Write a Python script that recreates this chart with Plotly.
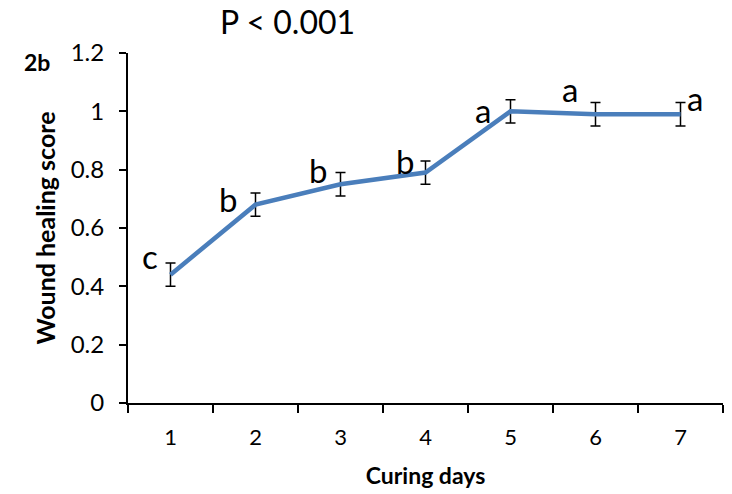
import plotly.graph_objects as go

days = [1, 2, 3, 4, 5, 6, 7]
day_labels = ["1", "2", "3", "4", "5", "6", "7"]
scores = [0.44, 0.68, 0.75, 0.79, 1.00, 0.99, 0.99]
errors = [0.04, 0.04, 0.04, 0.04, 0.04, 0.04, 0.04]
letters = ["c", "b", "b", "b", "a", "a", "a"]
letter_x = [0.76, 1.68, 2.74, 3.76, 4.68, 5.70, 7.17]
letter_y = [0.505, 0.70, 0.80, 0.83, 1.005, 1.075, 1.047]
y_ticks = [0, 0.2, 0.4, 0.6, 0.8, 1, 1.2]
y_tick_labels = ["0", "0.2", "0.4", "0.6", "0.8", "1", "1.2"]

FONT = "Lato"
W, H = 732, 494
ML, MR, MT, MB = 128, 9, 53, 89
pw = W - ML - MR
ph = H - MT - MB


def px2paper(px, py):
    return (px - ML) / pw, (H - MB - py) / ph


fig = go.Figure()
fig.add_trace(go.Scatter(
    x=days, y=scores, mode="lines",
    line=dict(color="#4a7ebb", width=4.5),
    error_y=dict(type="data", array=errors, visible=True,
                 color="black", thickness=1.5, width=5),
    showlegend=False,
))

for lx, ly, t in zip(letter_x, letter_y, letters):
    fig.add_annotation(x=lx, y=ly, text=t, showarrow=False,
                       font=dict(family=FONT, size=33, color="black"),
                       xanchor="center", yanchor="middle")

tx, ty = px2paper(287, 21)
fig.add_annotation(x=tx, y=ty, xref="paper", yref="paper", text="P < 0.001",
                   showarrow=False, xanchor="center", yanchor="middle",
                   font=dict(family=FONT, size=32, color="black"))
bx, by = px2paper(37, 62)
fig.add_annotation(x=bx, y=by, xref="paper", yref="paper", text="<b>2b</b>",
                   showarrow=False, xanchor="center", yanchor="middle",
                   font=dict(family=FONT, size=23, color="black"))

fig.update_layout(
    width=W, height=H,
    margin=dict(l=ML, r=MR, t=MT, b=MB),
    paper_bgcolor="white", plot_bgcolor="white",
    font=dict(family=FONT, color="black"),
)

fig.update_xaxes(
    range=[0.5, 7.5], tickvals=days, ticktext=day_labels,
    ticks="", showgrid=False, zeroline=False,
    showline=True, linecolor="black", linewidth=2,
    tickfont=dict(family=FONT, size=22, color="black"),
    ticklabelstandoff=14,
    minor=dict(tickvals=[0.5, 1.5, 2.5, 3.5, 4.5, 5.5, 6.5, 7.5],
               ticks="outside", ticklen=8, tickwidth=2, tickcolor="black",
               showgrid=False),
    title=dict(text="<b>Curing days</b>", font=dict(family=FONT, size=23, color="black"),
               standoff=18),
)
fig.update_yaxes(
    range=[0, 1.2], tickvals=y_ticks, ticktext=y_tick_labels,
    ticks="outside", ticklen=7, tickwidth=2, tickcolor="black",
    showgrid=False, zeroline=False,
    showline=True, linecolor="black", linewidth=2,
    tickfont=dict(family=FONT, size=24, color="black"),
    ticklabelstandoff=10,
    title=dict(text="<b>Wound healing score</b>", font=dict(family=FONT, size=25, color="black"),
               standoff=8),
)

fig.write_html("out.html")
